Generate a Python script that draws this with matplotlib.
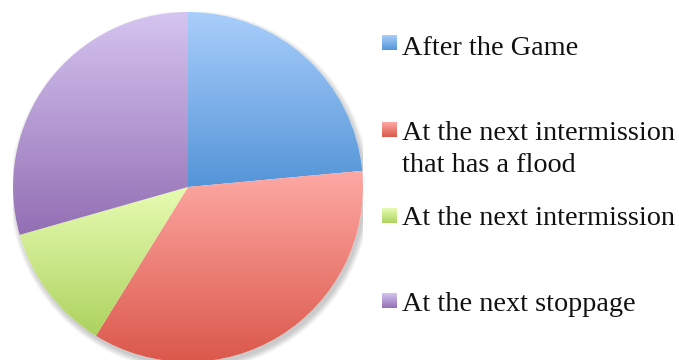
import matplotlib
matplotlib.use("Agg")
import matplotlib.pyplot as plt
import numpy as np
from matplotlib.colors import LinearSegmentedColormap
from matplotlib.patches import Circle

labels = ["After the Game", "At the next intermission\nthat has a flood",
          "At the next intermission", "At the next stoppage"]
values = [4, 6, 2, 5]
top_colors = ["#AACEFB", "#FEA9A4", "#E7FCB3", "#D5C4F0"]
bottom_colors = ["#5395D8", "#DB584B", "#ADD25E", "#936FB4"]

W, H = 679, 360
fig = plt.figure(figsize=(W / 100, H / 100), dpi=100)
fig.patch.set_facecolor("white")

# pie axes: center (188,187) px, radius 175 px
cx, cy, r = 188, 187, 175
ax = fig.add_axes([(cx - r) / W, (H - cy - r) / H, 2 * r / W, 2 * r / H])
ax.set_axis_off()

# soft shadow
for k in range(6):
    ax.add_patch(Circle((0.012, -0.022), 1.0 + k * 0.006, facecolor="black",
                        edgecolor="none", alpha=0.035, zorder=0))
ax.add_patch(Circle((0, 0), 1.0, facecolor="white", edgecolor="none", zorder=0.5))

wedges, _ = ax.pie(values, startangle=90, counterclock=False, radius=1.0,
                   wedgeprops=dict(linewidth=0))
grad = np.linspace(0, 1, 256).reshape(-1, 1)
for w, ct, cb in zip(wedges, top_colors, bottom_colors):
    v = w.get_path().vertices
    xmin, xmax = v[:, 0].min(), v[:, 0].max()
    ymin, ymax = v[:, 1].min(), v[:, 1].max()
    w.set_facecolor("none")
    w.set_edgecolor("none")
    cmap = LinearSegmentedColormap.from_list("g", [ct, cb])
    im = ax.imshow(grad, extent=[xmin, xmax, ymin, ymax], cmap=cmap,
                   aspect="auto", origin="upper", interpolation="bilinear", zorder=1)
    im.set_clip_path(w)
ax.set_xlim(-1, 1)
ax.set_ylim(-1, 1)
ax.set_aspect("auto")

# overlay axes in pixel coordinates for legend
lx = fig.add_axes([0, 0, 1, 1])
lx.set_xlim(0, W)
lx.set_ylim(H, 0)
lx.set_axis_off()
lx.patch.set_alpha(0)

square_tops = [36, 122.5, 208.5, 293.5]
baselines = [55, 140, 225, 311]
line_step = 31.7
sq = 14.5
for lab, st, bl, ct, cb in zip(labels, square_tops, baselines, top_colors, bottom_colors):
    cmap = LinearSegmentedColormap.from_list("g", [ct, cb])
    lx.imshow(grad, extent=[382, 382 + sq, st + sq, st], cmap=cmap,
              aspect="auto", origin="upper", interpolation="bilinear")
    for i, line in enumerate(lab.split("\n")):
        lx.text(402, bl + i * line_step, line, family="Liberation Serif", fontsize=20.3,
                color="#111111", va="baseline", ha="left")
lx.set_xlim(0, W)
lx.set_ylim(H, 0)

fig.savefig("out.png", dpi=100, facecolor="white")
